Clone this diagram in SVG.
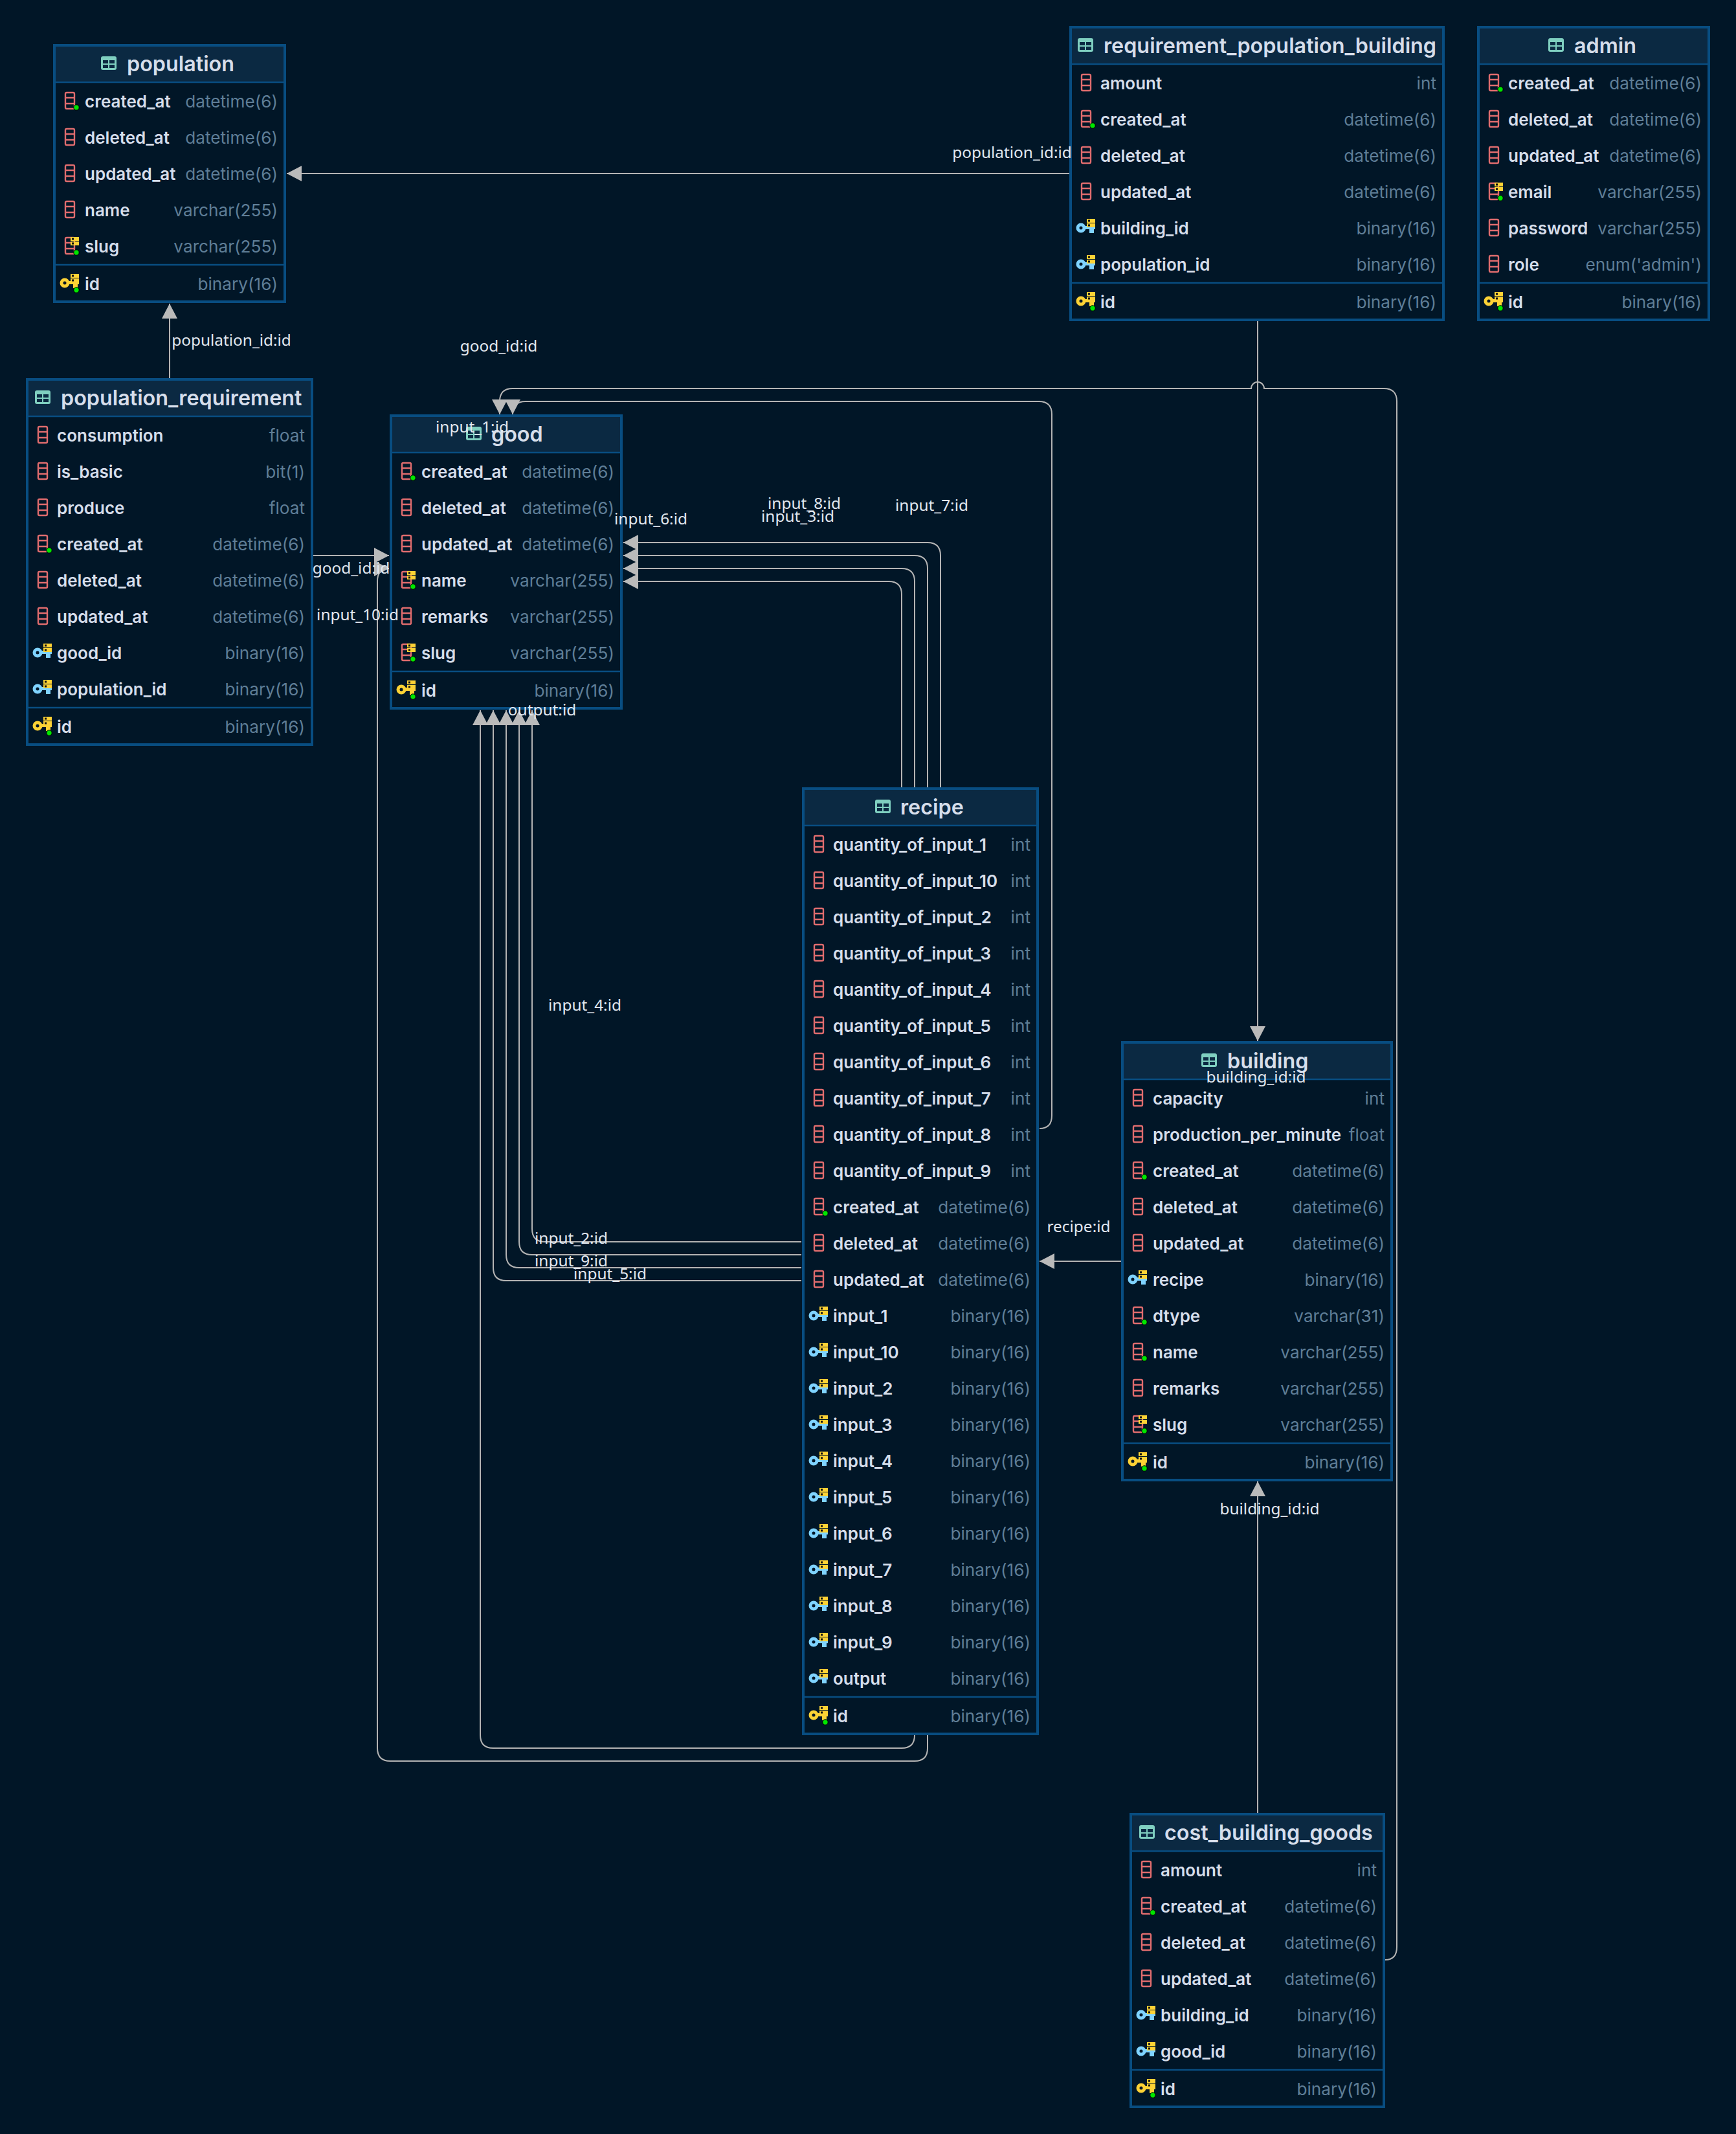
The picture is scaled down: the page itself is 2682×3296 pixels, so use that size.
<svg xmlns="http://www.w3.org/2000/svg" width="2682" height="3296" viewBox="0 0 2682 3296">
<style>
.box{fill:#011627;stroke:#084d81;stroke-width:4}
.hd{fill:#0b2942}
.ln{stroke:#084d81;stroke-width:2.5;fill:none}
.ti{font:600 32.300px Inter,"Liberation Sans",sans-serif;fill:#d6deeb;transform:translateY(.7px)}
.n{font:600 26px Inter,"Liberation Sans",sans-serif;fill:#d6deeb;transform:translateY(.4px)}
.t{font:400 26.200px Inter,"Liberation Sans",sans-serif;fill:#5f7e97;text-anchor:end;transform:translate(1px,.4px)}
.e{fill:none;stroke:#b4b4b4;stroke-width:2;marker-end:url(#a)}
.l{font:400 24.400px "Noto Sans","DejaVu Sans",sans-serif;fill:#e2e8f0;text-anchor:middle;transform:translate(-.5px,.5px)}
</style>
<defs>
<marker id="a" markerUnits="userSpaceOnUse" markerWidth="26" markerHeight="26" refX="23" refY="13" orient="auto"><path d="M0 1L23 13L0 25z" fill="#bababa"/></marker>
<g id="i"><rect x="0" y="0" width="24" height="21" rx="3" fill="#7fcfc0"/><path d="M3 6h8v5h-8zM13 6h8v5h-8zM3 13h8v5h-8zM13 13h8v5h-8z" fill="#0b2942"/></g>
<g id="b"><rect x="17" y="-14" width="14" height="25" rx="2" fill="none" stroke="#e06c6e" stroke-width="2.4"/><path d="M17-6H31M17 3H31" stroke="#e06c6e" stroke-width="2.4"/></g>
<circle id="d" cx="34" cy="9" r="4.2" fill="#00e600" stroke="#000" stroke-width="1"/>
<g id="u"><rect x="25" y="-15" width="13" height="6" fill="#fdd235"/><rect x="25" y="-8" width="13" height="6" fill="#fdd235"/><path d="M27-13.500h3v3h-3zM27-6.500h3v3h-3z" fill="#111"/></g>
<g id="c"><use href="#b"/></g>
<g id="n"><use href="#b"/><use href="#d"/></g>
<g id="s"><use href="#b"/><use href="#u"/><use href="#d"/></g>
<g id="p"><circle cx="16" cy="-1" r="5" fill="none" stroke="#fdd235" stroke-width="5"/><path d="M21-4H38V1H36V7H29V1H21z" fill="#fdd235"/><use href="#u"/><use href="#d" y="1"/></g>
<g id="f"><circle cx="16" cy="-1" r="5" fill="none" stroke="#7fd3ff" stroke-width="5"/><path d="M21-4H38V1H36V7H29V1H21z" fill="#7fd3ff"/><use href="#u"/></g>
</defs>
<rect width="2682" height="3296" fill="#011627"/>
<g id="connectors">
<path class="e" d="M1652 268H443"/>
<path class="e" d="M262 584V469"/>
<path class="e" d="M1943 496V1608"/>
<path class="e" d="M1943 2800V2288"/>
<path class="e" d="M1732 1948H1606"/>
<path class="e" d="M484 858H601"/>
<path class="e" d="M1453 1216V858Q1453 838 1433 838H963"/>
<path class="e" d="M1433 1216V878Q1433 858 1413 858H963"/>
<path class="e" d="M1413 1216V898Q1413 878 1393 878H963"/>
<path class="e" d="M1393 1216V918Q1393 898 1373 898H963"/>
<path class="e" d="M1238 1918H842Q822 1918 822 1898V1097"/>
<path class="e" d="M1238 1938H822Q802 1938 802 1918V1097"/>
<path class="e" d="M1238 1958H802Q782 1958 782 1938V1097"/>
<path class="e" d="M1238 1978H782Q762 1978 762 1958V1097"/>
<path class="e" d="M1413 2680Q1413 2700 1393 2700H762Q742 2700 742 2680V1097"/>
<path class="e" d="M1433 2680V2700Q1433 2720 1413 2720H603Q583 2720 583 2700V898Q583 878 601 878"/>
<path class="e" d="M1606 1743Q1625 1743 1625 1723V640Q1625 620 1605 620H812Q792 620 792 640"/>
<path class="e" d="M2140 3027Q2158 3027 2158 3007V620Q2158 600 2138 600H1953A10 10 0 0 0 1933 600H792Q772 600 772 620V640"/>
</g>
<g id="population" transform="translate(84,70)">
<rect class="box" width="356" height="396"/><rect class="hd" x="2" y="2" width="352" height="55"/><path class="ln" d="M0 57H356M0 339H356"/>
<use href="#i" x="72" y="17"/><text class="ti" x="112" y="39">population</text>
<use href="#n" y="87"/><text class="n" x="47" y="96">created_at</text><text class="t" x="344" y="96">datetime(6)</text>
<use href="#c" y="143"/><text class="n" x="47" y="152">deleted_at</text><text class="t" x="344" y="152">datetime(6)</text>
<use href="#c" y="199"/><text class="n" x="47" y="208">updated_at</text><text class="t" x="344" y="208">datetime(6)</text>
<use href="#c" y="255"/><text class="n" x="47" y="264">name</text><text class="t" x="344" y="264">varchar(255)</text>
<use href="#s" y="311"/><text class="n" x="47" y="320">slug</text><text class="t" x="344" y="320">varchar(255)</text>
<use href="#p" y="368"/><text class="n" x="47" y="378">id</text><text class="t" x="344" y="378">binary(16)</text>
</g>
<g id="population_requirement" transform="translate(42,586)">
<rect class="box" width="440" height="564"/><rect class="hd" x="2" y="2" width="436" height="55"/><path class="ln" d="M0 57H440M0 507H440"/>
<use href="#i" x="12" y="17"/><text class="ti" x="52" y="39">population_requirement</text>
<use href="#c" y="87"/><text class="n" x="46" y="96">consumption</text><text class="t" x="428" y="96">float</text>
<use href="#c" y="143"/><text class="n" x="46" y="152">is_basic</text><text class="t" x="428" y="152">bit(1)</text>
<use href="#c" y="199"/><text class="n" x="46" y="208">produce</text><text class="t" x="428" y="208">float</text>
<use href="#n" y="255"/><text class="n" x="46" y="264">created_at</text><text class="t" x="428" y="264">datetime(6)</text>
<use href="#c" y="311"/><text class="n" x="46" y="320">deleted_at</text><text class="t" x="428" y="320">datetime(6)</text>
<use href="#c" y="367"/><text class="n" x="46" y="376">updated_at</text><text class="t" x="428" y="376">datetime(6)</text>
<use href="#f" y="423"/><text class="n" x="46" y="432">good_id</text><text class="t" x="428" y="432">binary(16)</text>
<use href="#f" y="479"/><text class="n" x="46" y="488">population_id</text><text class="t" x="428" y="488">binary(16)</text>
<use href="#p" y="536"/><text class="n" x="46" y="546">id</text><text class="t" x="428" y="546">binary(16)</text>
</g>
<g id="good" transform="translate(604,642)">
<rect class="box" width="356" height="452"/><rect class="hd" x="2" y="2" width="352" height="55"/><path class="ln" d="M0 57H356M0 395H356"/>
<use href="#i" x="116" y="17"/><text class="ti" x="155" y="39">good</text>
<use href="#n" y="87"/><text class="n" x="47" y="96">created_at</text><text class="t" x="344" y="96">datetime(6)</text>
<use href="#c" y="143"/><text class="n" x="47" y="152">deleted_at</text><text class="t" x="344" y="152">datetime(6)</text>
<use href="#c" y="199"/><text class="n" x="47" y="208">updated_at</text><text class="t" x="344" y="208">datetime(6)</text>
<use href="#s" y="255"/><text class="n" x="47" y="264">name</text><text class="t" x="344" y="264">varchar(255)</text>
<use href="#c" y="311"/><text class="n" x="47" y="320">remarks</text><text class="t" x="344" y="320">varchar(255)</text>
<use href="#s" y="367"/><text class="n" x="47" y="376">slug</text><text class="t" x="344" y="376">varchar(255)</text>
<use href="#p" y="424"/><text class="n" x="47" y="434">id</text><text class="t" x="344" y="434">binary(16)</text>
</g>
<g id="requirement_population_building" transform="translate(1654,42)">
<rect class="box" width="576" height="452"/><rect class="hd" x="2" y="2" width="572" height="55"/><path class="ln" d="M0 57H576M0 395H576"/>
<use href="#i" x="11" y="17"/><text class="ti" x="51" y="39">requirement_population_building</text>
<use href="#c" y="87"/><text class="n" x="46" y="96">amount</text><text class="t" x="564" y="96">int</text>
<use href="#n" y="143"/><text class="n" x="46" y="152">created_at</text><text class="t" x="564" y="152">datetime(6)</text>
<use href="#c" y="199"/><text class="n" x="46" y="208">deleted_at</text><text class="t" x="564" y="208">datetime(6)</text>
<use href="#c" y="255"/><text class="n" x="46" y="264">updated_at</text><text class="t" x="564" y="264">datetime(6)</text>
<use href="#f" y="311"/><text class="n" x="46" y="320">building_id</text><text class="t" x="564" y="320">binary(16)</text>
<use href="#f" y="367"/><text class="n" x="46" y="376">population_id</text><text class="t" x="564" y="376">binary(16)</text>
<use href="#p" y="424"/><text class="n" x="46" y="434">id</text><text class="t" x="564" y="434">binary(16)</text>
</g>
<g id="admin" transform="translate(2284,42)">
<rect class="box" width="356" height="452"/><rect class="hd" x="2" y="2" width="352" height="55"/><path class="ln" d="M0 57H356M0 395H356"/>
<use href="#i" x="108" y="17"/><text class="ti" x="148" y="39">admin</text>
<use href="#n" y="87"/><text class="n" x="46" y="96">created_at</text><text class="t" x="344" y="96">datetime(6)</text>
<use href="#c" y="143"/><text class="n" x="46" y="152">deleted_at</text><text class="t" x="344" y="152">datetime(6)</text>
<use href="#c" y="199"/><text class="n" x="46" y="208">updated_at</text><text class="t" x="344" y="208">datetime(6)</text>
<use href="#s" y="255"/><text class="n" x="46" y="264">email</text><text class="t" x="344" y="264">varchar(255)</text>
<use href="#c" y="311"/><text class="n" x="46" y="320">password</text><text class="t" x="344" y="320">varchar(255)</text>
<use href="#c" y="367"/><text class="n" x="46" y="376">role</text><text class="t" x="344" y="376">enum('admin')</text>
<use href="#p" y="424"/><text class="n" x="46" y="434">id</text><text class="t" x="344" y="434">binary(16)</text>
</g>
<g id="recipe" transform="translate(1241,1218)">
<rect class="box" width="362" height="1460"/><rect class="hd" x="2" y="2" width="358" height="55"/><path class="ln" d="M0 57H362M0 1403H362"/>
<use href="#i" x="111" y="17"/><text class="ti" x="150" y="39">recipe</text>
<use href="#c" y="87"/><text class="n" x="46" y="96">quantity_of_input_1</text><text class="t" x="350" y="96">int</text>
<use href="#c" y="143"/><text class="n" x="46" y="152">quantity_of_input_10</text><text class="t" x="350" y="152">int</text>
<use href="#c" y="199"/><text class="n" x="46" y="208">quantity_of_input_2</text><text class="t" x="350" y="208">int</text>
<use href="#c" y="255"/><text class="n" x="46" y="264">quantity_of_input_3</text><text class="t" x="350" y="264">int</text>
<use href="#c" y="311"/><text class="n" x="46" y="320">quantity_of_input_4</text><text class="t" x="350" y="320">int</text>
<use href="#c" y="367"/><text class="n" x="46" y="376">quantity_of_input_5</text><text class="t" x="350" y="376">int</text>
<use href="#c" y="423"/><text class="n" x="46" y="432">quantity_of_input_6</text><text class="t" x="350" y="432">int</text>
<use href="#c" y="479"/><text class="n" x="46" y="488">quantity_of_input_7</text><text class="t" x="350" y="488">int</text>
<use href="#c" y="535"/><text class="n" x="46" y="544">quantity_of_input_8</text><text class="t" x="350" y="544">int</text>
<use href="#c" y="591"/><text class="n" x="46" y="600">quantity_of_input_9</text><text class="t" x="350" y="600">int</text>
<use href="#n" y="647"/><text class="n" x="46" y="656">created_at</text><text class="t" x="350" y="656">datetime(6)</text>
<use href="#c" y="703"/><text class="n" x="46" y="712">deleted_at</text><text class="t" x="350" y="712">datetime(6)</text>
<use href="#c" y="759"/><text class="n" x="46" y="768">updated_at</text><text class="t" x="350" y="768">datetime(6)</text>
<use href="#f" y="815"/><text class="n" x="46" y="824">input_1</text><text class="t" x="350" y="824">binary(16)</text>
<use href="#f" y="871"/><text class="n" x="46" y="880">input_10</text><text class="t" x="350" y="880">binary(16)</text>
<use href="#f" y="927"/><text class="n" x="46" y="936">input_2</text><text class="t" x="350" y="936">binary(16)</text>
<use href="#f" y="983"/><text class="n" x="46" y="992">input_3</text><text class="t" x="350" y="992">binary(16)</text>
<use href="#f" y="1039"/><text class="n" x="46" y="1048">input_4</text><text class="t" x="350" y="1048">binary(16)</text>
<use href="#f" y="1095"/><text class="n" x="46" y="1104">input_5</text><text class="t" x="350" y="1104">binary(16)</text>
<use href="#f" y="1151"/><text class="n" x="46" y="1160">input_6</text><text class="t" x="350" y="1160">binary(16)</text>
<use href="#f" y="1207"/><text class="n" x="46" y="1216">input_7</text><text class="t" x="350" y="1216">binary(16)</text>
<use href="#f" y="1263"/><text class="n" x="46" y="1272">input_8</text><text class="t" x="350" y="1272">binary(16)</text>
<use href="#f" y="1319"/><text class="n" x="46" y="1328">input_9</text><text class="t" x="350" y="1328">binary(16)</text>
<use href="#f" y="1375"/><text class="n" x="46" y="1384">output</text><text class="t" x="350" y="1384">binary(16)</text>
<use href="#p" y="1432"/><text class="n" x="46" y="1442">id</text><text class="t" x="350" y="1442">binary(16)</text>
</g>
<g id="building" transform="translate(1734,1610)">
<rect class="box" width="416" height="676"/><rect class="hd" x="2" y="2" width="412" height="55"/><path class="ln" d="M0 57H416M0 619H416"/>
<use href="#i" x="122" y="17"/><text class="ti" x="162" y="39">building</text>
<use href="#c" y="87"/><text class="n" x="47" y="96">capacity</text><text class="t" x="404" y="96">int</text>
<use href="#c" y="143"/><text class="n" x="47" y="152">production_per_minute</text><text class="t" x="404" y="152">float</text>
<use href="#n" y="199"/><text class="n" x="47" y="208">created_at</text><text class="t" x="404" y="208">datetime(6)</text>
<use href="#c" y="255"/><text class="n" x="47" y="264">deleted_at</text><text class="t" x="404" y="264">datetime(6)</text>
<use href="#c" y="311"/><text class="n" x="47" y="320">updated_at</text><text class="t" x="404" y="320">datetime(6)</text>
<use href="#f" y="367"/><text class="n" x="47" y="376">recipe</text><text class="t" x="404" y="376">binary(16)</text>
<use href="#n" y="423"/><text class="n" x="47" y="432">dtype</text><text class="t" x="404" y="432">varchar(31)</text>
<use href="#n" y="479"/><text class="n" x="47" y="488">name</text><text class="t" x="404" y="488">varchar(255)</text>
<use href="#c" y="535"/><text class="n" x="47" y="544">remarks</text><text class="t" x="404" y="544">varchar(255)</text>
<use href="#s" y="591"/><text class="n" x="47" y="600">slug</text><text class="t" x="404" y="600">varchar(255)</text>
<use href="#p" y="648"/><text class="n" x="47" y="658">id</text><text class="t" x="404" y="658">binary(16)</text>
</g>
<g id="cost_building_goods" transform="translate(1747,2802)">
<rect class="box" width="391" height="452"/><rect class="hd" x="2" y="2" width="387" height="55"/><path class="ln" d="M0 57H391M0 395H391"/>
<use href="#i" x="13" y="17"/><text class="ti" x="52" y="39">cost_building_goods</text>
<use href="#c" y="87"/><text class="n" x="46" y="96">amount</text><text class="t" x="379" y="96">int</text>
<use href="#n" y="143"/><text class="n" x="46" y="152">created_at</text><text class="t" x="379" y="152">datetime(6)</text>
<use href="#c" y="199"/><text class="n" x="46" y="208">deleted_at</text><text class="t" x="379" y="208">datetime(6)</text>
<use href="#c" y="255"/><text class="n" x="46" y="264">updated_at</text><text class="t" x="379" y="264">datetime(6)</text>
<use href="#f" y="311"/><text class="n" x="46" y="320">building_id</text><text class="t" x="379" y="320">binary(16)</text>
<use href="#f" y="367"/><text class="n" x="46" y="376">good_id</text><text class="t" x="379" y="376">binary(16)</text>
<use href="#p" y="424"/><text class="n" x="46" y="434">id</text><text class="t" x="379" y="434">binary(16)</text>
</g>
<g id="connector-labels">
<text class="l" x="1564" y="243">population_id:id</text>
<text class="l" x="358" y="533">population_id:id</text>
<text class="l" x="771" y="542">good_id:id</text>
<text class="l" x="730" y="667">input_1:id</text>
<text class="l" x="1006" y="809">input_6:id</text>
<text class="l" x="1243" y="785">input_8:id</text>
<text class="l" x="1233" y="805">input_3:id</text>
<text class="l" x="1440" y="788">input_7:id</text>
<text class="l" x="883" y="1920">input_2:id</text>
<text class="l" x="883" y="1955">input_9:id</text>
<text class="l" x="943" y="1975">input_5:id</text>
<text class="l" x="838" y="1104">output:id</text>
<text class="l" x="904" y="1560">input_4:id</text>
<text class="l" x="543" y="885">good_id:id</text>
<text class="l" x="553" y="957">input_10:id</text>
<text class="l" x="1667" y="1902">recipe:id</text>
<text class="l" x="1941" y="1671">building_id:id</text>
<text class="l" x="1962" y="2338">building_id:id</text>
</g>
</svg>
